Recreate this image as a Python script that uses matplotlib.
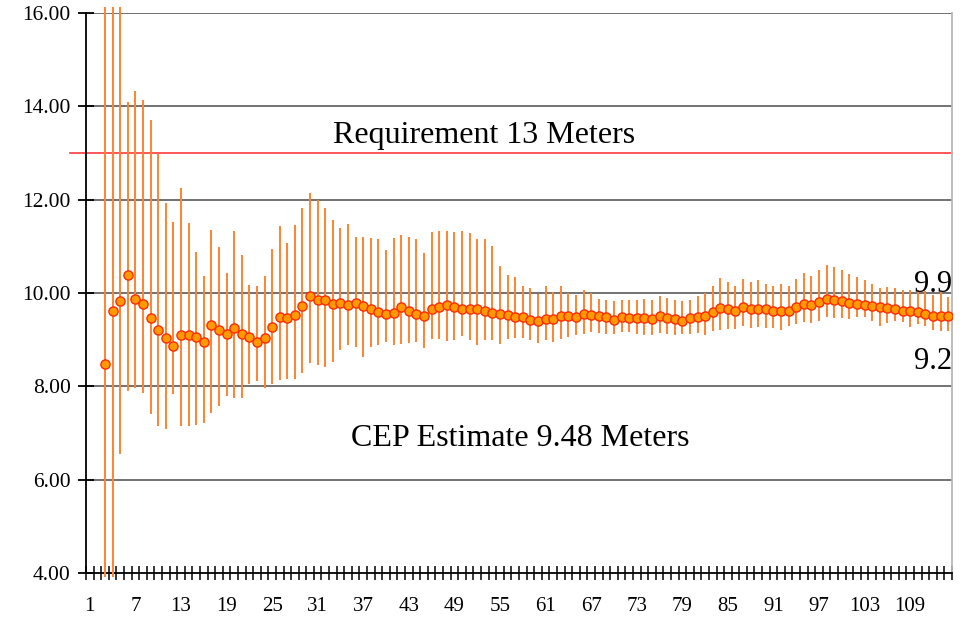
import matplotlib
matplotlib.use('Agg')
import matplotlib.pyplot as plt
import numpy as np

# CEP estimate per sample number, with the upper / lower bound of each estimate
samples = np.arange(3, 115)

cep = [8.48, 9.61, 9.83, 10.39, 9.88, 9.76, 9.47, 9.21, 9.03, 8.87,
       9.11, 9.10, 9.06, 8.94, 9.31, 9.20, 9.12, 9.24, 9.13, 9.06,
       8.95, 9.03, 9.28, 9.49, 9.47, 9.52, 9.73, 9.94, 9.86, 9.84,
       9.76, 9.79, 9.75, 9.79, 9.72, 9.66, 9.60, 9.55, 9.58, 9.69,
       9.61, 9.54, 9.51, 9.66, 9.71, 9.74, 9.69, 9.65, 9.66, 9.66,
       9.62, 9.58, 9.54, 9.52, 9.48, 9.48, 9.43, 9.39, 9.44, 9.44,
       9.51, 9.51, 9.49, 9.56, 9.53, 9.51, 9.48, 9.43, 9.49, 9.46,
       9.46, 9.46, 9.44, 9.51, 9.46, 9.44, 9.41, 9.46, 9.49, 9.51,
       9.60, 9.67, 9.65, 9.62, 9.69, 9.66, 9.66, 9.65, 9.61, 9.62,
       9.61, 9.69, 9.76, 9.74, 9.81, 9.87, 9.85, 9.82, 9.79, 9.76,
       9.74, 9.73, 9.69, 9.67, 9.65, 9.62, 9.61, 9.59, 9.56, 9.51,
       9.51, 9.51]

upper = [19.0, 19.0, 19.0, 14.09, 14.32, 14.13, 13.71, 12.97, 11.92, 11.53,
         12.26, 11.50, 10.88, 10.37, 11.36, 10.98, 10.42, 11.32, 10.81, 10.17,
         10.14, 10.37, 10.95, 11.43, 11.07, 11.46, 11.82, 12.14, 12.00, 11.82,
         11.57, 11.39, 11.48, 11.21, 11.20, 11.18, 11.15, 10.92, 11.18, 11.24,
         11.21, 11.16, 10.86, 11.31, 11.33, 11.33, 11.31, 11.33, 11.28, 11.16,
         11.16, 11.01, 10.57, 10.39, 10.34, 10.16, 10.11, 9.97, 10.14, 10.02,
         10.14, 10.00, 9.95, 10.07, 10.00, 9.88, 9.84, 9.83, 9.84, 9.84,
         9.86, 9.88, 9.86, 9.93, 9.89, 9.84, 9.82, 9.86, 9.93, 10.00,
         10.14, 10.32, 10.23, 10.16, 10.29, 10.23, 10.27, 10.20, 10.14, 10.20,
         10.16, 10.29, 10.43, 10.36, 10.50, 10.61, 10.56, 10.49, 10.41, 10.34,
         10.27, 10.20, 10.11, 10.12, 10.11, 10.07, 10.07, 10.06, 10.04, 9.96,
         10.02, 9.91]

lower = [1.0, 1.0, 6.55, 7.89, 7.97, 7.86, 7.40, 7.15, 7.08, 7.84,
         7.15, 7.15, 7.18, 7.21, 7.42, 7.58, 7.80, 7.76, 7.76, 8.05,
         8.11, 7.96, 8.05, 8.13, 8.15, 8.15, 8.29, 8.50, 8.45, 8.41,
         8.52, 8.77, 8.89, 8.85, 8.63, 8.85, 8.88, 8.95, 8.89, 8.90,
         8.93, 8.95, 8.82, 9.02, 9.02, 8.97, 8.99, 9.07, 8.99, 8.88,
         8.99, 9.00, 8.90, 9.02, 9.04, 9.04, 8.99, 8.93, 8.99, 8.94,
         9.01, 9.06, 9.09, 9.13, 9.16, 9.14, 9.13, 9.13, 9.16, 9.16,
         9.13, 9.09, 9.09, 9.14, 9.13, 9.11, 9.13, 9.13, 9.14, 9.11,
         9.19, 9.21, 9.22, 9.22, 9.29, 9.26, 9.27, 9.26, 9.26, 9.21,
         9.29, 9.34, 9.38, 9.36, 9.41, 9.49, 9.46, 9.46, 9.44, 9.49,
         9.49, 9.39, 9.30, 9.36, 9.41, 9.38, 9.27, 9.33, 9.29, 9.21,
         9.19, 9.18]

n_cat = 114
requirement = 13
y_ticks = [4, 6, 8, 10, 12, 14, 16]
x_labels = list(range(1, 110, 6))

serif = 'Liberation Serif'

fig = plt.figure(figsize=(9.66, 6.2), dpi=100)
ax = fig.add_axes([86/966, 47/620, 866/966, 560/620])

ax.set_xlim(0.5, n_cat + 0.5)
ax.set_ylim(4, 16)

# gridlines
for yv in y_ticks[1:]:
    ax.axhline(yv, color='#666666', lw=1.3, zorder=1)

# requirement line (Excel draws it a bit past the axis)
ax.plot([-0.019, 1.0], [requirement, requirement], color='#ff3b3b', lw=1.2,
        transform=ax.get_yaxis_transform(), clip_on=False, zorder=2)

# error bars, clipped a touch beyond the plot area like the original
lo = np.clip(lower, 3.92, 16.12)
hi = np.clip(upper, 3.92, 16.12)
ax.vlines(samples, lo, hi, color='#ff8330', lw=1.4, clip_on=False, zorder=3)

ax.plot(samples, cep, 'o', ms=6.6, mfc='#ff9a00', mec='#ff2a00', mew=1.0, zorder=4)

# text annotations
ax.text(52.9, 13.38, 'Requirement 13 Meters', ha='center', va='center',
        fontsize=23, family=serif)
ax.text(57.6, 6.89, 'CEP Estimate 9.48 Meters', ha='center', va='center',
        fontsize=23, family=serif)
ax.text(1.0, 10.03, '9.9', ha='right', va='baseline', fontsize=22, family=serif,
        transform=ax.get_yaxis_transform())
ax.text(1.0, 8.38, '9.2', ha='right', va='baseline', fontsize=22, family=serif,
        transform=ax.get_yaxis_transform())

# axes
ax.set_yticks(y_ticks)
ax.set_yticklabels(['%.2f' % v for v in y_ticks], family=serif, fontsize=15.5)
ax.tick_params(axis='y', direction='inout', length=12, width=1.3, pad=5)

ax.set_xticks(x_labels)
ax.set_xticklabels([str(v) for v in x_labels], family=serif, fontsize=15)
ax.set_xticks(np.arange(0.5, n_cat + 1, 1), minor=True)
ax.tick_params(axis='x', which='major', length=0, pad=17)
ax.tick_params(axis='x', which='minor', direction='inout', length=10, width=1.1)

ax.spines['left'].set_linewidth(1.3)
ax.spines['bottom'].set_linewidth(1.3)
ax.spines['top'].set_visible(False)
ax.spines['right'].set_color('#b8b8b8')
ax.spines['right'].set_linewidth(1.3)

fig.savefig('out.png', dpi=100)
